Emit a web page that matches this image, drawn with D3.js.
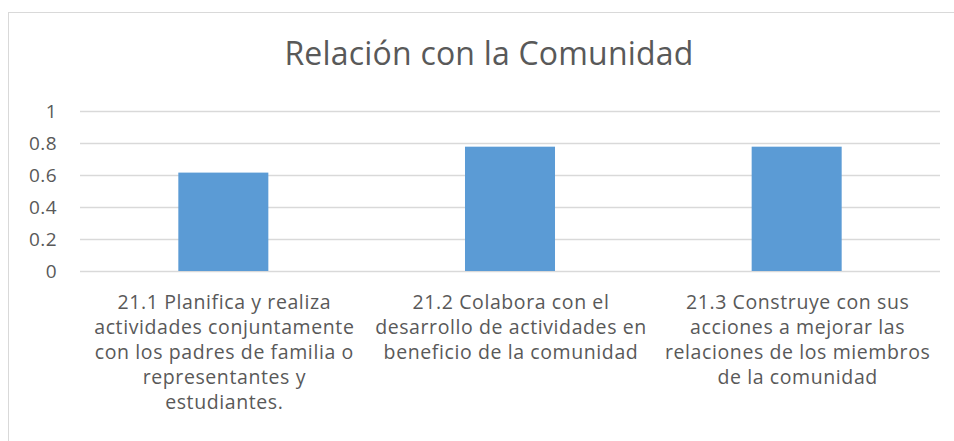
<!DOCTYPE html>
<html>
<head>
<meta charset="utf-8">
<script src="https://cdn.jsdelivr.net/npm/d3@7"></script>
<style>
  body { margin: 0; background: #fff; }
  text { font-family: "Open Sans", sans-serif; fill: #595959; }
</style>
</head>
<body>
<div id="chart"></div>
<script>
var width = 954,
    height = 441;

var title = "Relación con la Comunidad";

var categories = [
  ["21.1 Planifica y realiza", "actividades conjuntamente", "con los padres de familia o", "representantes y", "estudiantes."],
  ["21.2 Colabora con el", "desarrollo de actividades en", "beneficio de la comunidad"],
  ["21.3 Construye con sus", "acciones a mejorar las", "relaciones de los miembros", "de la comunidad"]
];
var values = [0.615, 0.777, 0.777];
var yTicks = [0, 0.2, 0.4, 0.6, 0.8, 1];

var margin = {top: 111, left: 80, right: 14, bottom: 170};

var svg = d3.select("#chart").append("svg")
    .attr("width", width)
    .attr("height", height);

// chart border (bottom/right run off the picture)
svg.append("rect")
  .attr("x", 8.5)
  .attr("y", 12.5)
  .attr("width", 960)
  .attr("height", 460)
  .style("fill", "none")
  .style("stroke", "#d9d9d9")
  .style("stroke-width", 1);

var x = d3.scaleBand()
  .domain(d3.range(categories.length))
  .range([margin.left, width - margin.right])
  .paddingInner(0.686)
  .paddingOuter(0.343);

var y = d3.scaleLinear()
  .domain([0, 1])
  .range([271, 111]);

svg.append("text")
  .attr("x", 489)
  .attr("y", 65)
  .attr("text-anchor", "middle")
  .style("font-size", "32px")
  .style("letter-spacing", "0.2px")
  .text(title);

var g = svg.append("g");

g.selectAll("line.grid")
  .data(yTicks)
  .enter().append("line")
  .attr("class", "grid")
  .attr("x1", margin.left)
  .attr("x2", width - margin.right)
  .attr("y1", d => Math.round(y(d)) + 0.5)
  .attr("y2", d => Math.round(y(d)) + 0.5)
  .style("stroke", "#d9d9d9")
  .style("stroke-width", 1.5);

g.selectAll("text.ylab")
  .data(yTicks)
  .enter().append("text")
  .attr("class", "ylab")
  .attr("x", 57)
  .attr("y", d => y(d) + 6.5)
  .attr("text-anchor", "end")
  .style("font-size", "19px")
  .style("letter-spacing", "0.4px")
  .text(d => d3.format("")(d));

g.selectAll("rect.bar")
  .data(values)
  .enter().append("rect")
  .attr("class", "bar")
  .attr("x", (d, i) => x(i))
  .attr("width", x.bandwidth())
  .attr("y", d => y(d))
  .attr("height", d => y(0) - y(d))
  .style("fill", "#5b9bd5");

var labels = g.selectAll("text.xlab")
  .data(categories)
  .enter().append("text")
  .attr("class", "xlab")
  .attr("text-anchor", "middle")
  .style("font-size", "19.5px")
  .style("letter-spacing", "0.6px");

labels.selectAll("tspan")
  .data((d, i) => d.map(line => ({line: line, i: i})))
  .enter().append("tspan")
  .attr("x", d => x(d.i) + x.bandwidth() / 2 + 1)
  .attr("y", (d, j) => 309 + j * 25)
  .text(d => d.line);
</script>
</body>
</html>
